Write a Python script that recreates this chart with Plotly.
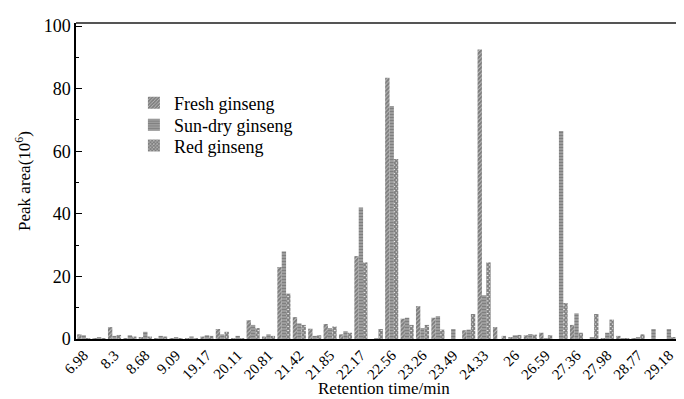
import plotly.graph_objects as go

# Retention-time tick labels (one label every other peak position)
tick_labels = ["6.98", "8.3", "8.68", "9.09", "19.17", "20.11", "20.81", "21.42",
               "21.85", "22.17", "22.56", "23.26", "23.49", "24.33", "26", "26.59",
               "27.36", "27.98", "28.77", "29.18"]

# Peak positions (40 peaks, indexed)
peaks = list(range(40))

fresh = [1.5, 0.3, 3.8, 0.3, 0.5, 0.3, 0.2, 0.2, 0.8, 3.2,
         0.3, 6.0, 0.8, 23.0, 7.0, 3.3, 4.8, 1.5, 26.5, 0.0,
         83.5, 6.5, 10.5, 6.8, 0.0, 2.8, 92.5, 3.8, 0.5, 1.2,
         2.0, 0.0, 4.5, 0.0, 0.3, 1.0, 0.3, 0.0, 0.0, 4.0]
sun_dry = [1.2, 0.5, 1.0, 1.2, 2.3, 1.0, 0.5, 0.8, 1.2, 1.5,
           1.0, 4.5, 1.5, 28.0, 5.0, 1.0, 3.5, 2.5, 42.0, 0.3,
           74.5, 6.8, 3.5, 7.3, 3.2, 3.0, 14.0, 0.0, 1.2, 1.6,
           0.3, 66.5, 8.2, 0.5, 2.0, 0.2, 0.5, 3.2, 3.2, 8.2]
red = [0.3, 0.2, 1.3, 0.8, 0.8, 0.8, 0.2, 0.3, 1.0, 2.3,
       0.3, 3.5, 1.0, 14.5, 4.5, 1.2, 4.0, 2.0, 24.5, 3.2,
       57.5, 4.5, 4.5, 3.0, 0.0, 8.0, 24.5, 1.0, 1.3, 1.4,
       1.2, 11.5, 2.0, 8.0, 6.2, 0.2, 1.5, 0.0, 0.5, 5.0]

series = [("Fresh ginseng", fresh, "/", "legend"),
          ("Sun-dry ginseng", sun_dry, "-", "legend2"),
          ("Red ginseng", red, "x", "legend3")]

SERIF = "Liberation Serif, Times New Roman, serif"

fig = go.Figure()
for name, vals, shp, lg in series:
    fig.add_trace(go.Bar(
        x=peaks, y=vals, name=name, legend=lg,
        marker=dict(color="white", line=dict(width=0),
                    pattern=dict(shape=shp, fgcolor="black", bgcolor="white",
                                 size=3, solidity=0.85)),
    ))

legend_y = {"legend": 0.747, "legend2": 0.677, "legend3": 0.611}
legend_style = {
    k: dict(x=0.094, y=v, xanchor="left", yanchor="middle",
            bgcolor="rgba(0,0,0,0)", font=dict(family=SERIF, size=18),
            itemsizing="constant")
    for k, v in legend_y.items()
}

fig.update_layout(
    width=684, height=399,
    margin=dict(l=68, r=0, t=15, b=68),
    paper_bgcolor="white", plot_bgcolor="white",
    barmode="group", bargap=0.15, bargroupgap=0.0,
    font=dict(family=SERIF, size=18, color="black"),
    showlegend=True,
    **legend_style,
    xaxis=dict(range=[-0.5, 39.5], tickmode="array",
               tickvals=peaks[::2], ticktext=tick_labels,
               tickangle=-45, ticks="", showgrid=False, zeroline=False,
               showline=True, linecolor="black", linewidth=1.5,
               automargin=False,
               tickfont=dict(family=SERIF, size=15)),
    yaxis=dict(range=[0, 101], tickvals=[0, 20, 40, 60, 80, 100],
               ticks="inside", ticklen=6, tickwidth=1.2, tickcolor="black",
               minor=dict(tickvals=[10, 30, 50, 70, 90], ticks="inside",
                          ticklen=3, tickcolor="black"),
               showgrid=False, zeroline=False,
               showline=True, linecolor="black", linewidth=1.5,
               automargin=False,
               tickfont=dict(family=SERIF, size=18),
               title=dict(text="Peak area(10<sup>6</sup>)", standoff=9,
                          font=dict(family=SERIF, size=17))),
    annotations=[dict(text="Retention time/min", xref="paper", yref="paper",
                      x=0.5, y=-0.158, xanchor="center", yanchor="middle",
                      showarrow=False, font=dict(family=SERIF, size=17))],
    shapes=[dict(type="line", xref="paper", yref="paper", x0=0, x1=1, y0=1, y1=1,
                 line=dict(color="#555555", width=2))],
)

fig.write_html("out.html")
